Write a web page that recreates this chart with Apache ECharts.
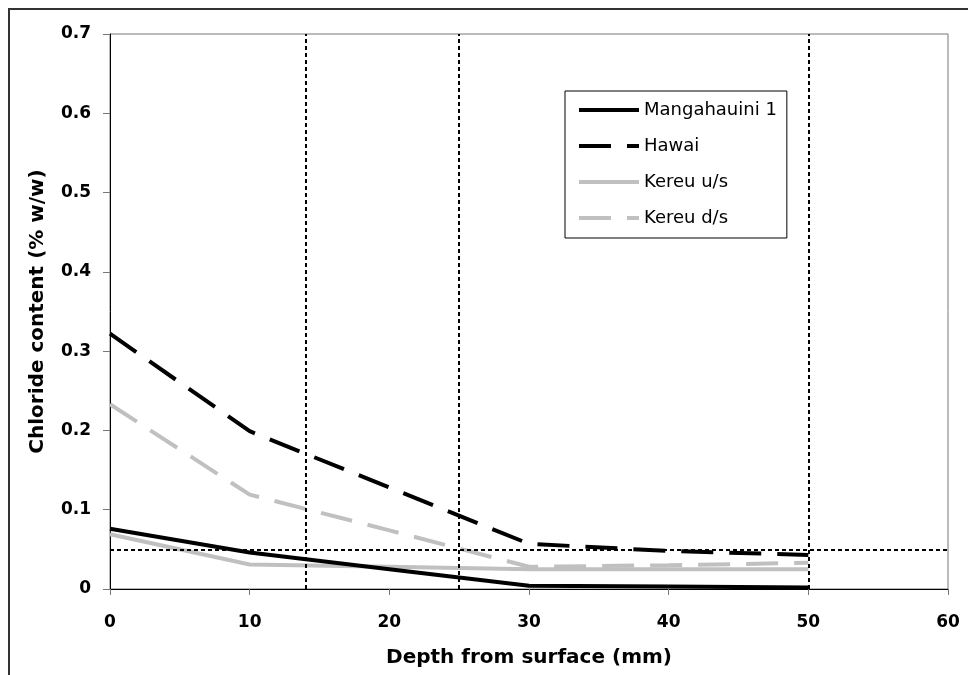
<!DOCTYPE html>
<html><head><meta charset="utf-8">
<script src="https://cdn.jsdelivr.net/npm/echarts@6/dist/echarts.min.js"></script>
<style>html,body{margin:0;padding:0;background:#fff}#c{width:968px;height:675px}</style>
</head><body><div id="c"></div>
<script>
const depths = [0, 10, 20, 30, 40, 50];
const mangahauini = [0.076, 0.046, 0.025, 0.004, 0.003, 0.002];
const hawai = [0.322, 0.199, 0.128, 0.057, 0.048, 0.043];
const kereuUs = [0.069, 0.031, 0.028, 0.025, 0.025, 0.025];
const kereuDs = [0.233, 0.119, 0.074, 0.028, 0.030, 0.033];
const refDepths = [14, 25, 50];
const refChloride = 0.052;
const seriesNames = ['Mangahauini 1', 'Hawai', 'Kereu u/s', 'Kereu d/s'];

const FONT = 'DejaVu Sans';
const chart = echarts.init(document.getElementById('c'), null, {renderer: 'canvas'});
const pts = arr => depths.map((d, i) => [d, arr[i]]);
const mk = (name, arr, color, dashed, z) => ({
  name, type: 'line', data: pts(arr), symbol: 'none', z,
  lineStyle: {color, width: 4, type: dashed ? [32, 16] : 'solid', cap: 'butt'},
  itemStyle: {color}
});
chart.setOption({
  animation: false,
  backgroundColor: '#fff',
  textStyle: {fontFamily: FONT},
  grid: {left: 110, top: 34, right: 20, bottom: 86, show: true, borderColor: '#777', borderWidth: 1},
  graphic: [{type: 'rect', shape: {x: 9, y: 9, width: 1000, height: 700},
    style: {fill: 'none', stroke: '#333', lineWidth: 2}, silent: true}],
  xAxis: {
    type: 'value', min: 0, max: 60, interval: 10,
    name: 'Depth from surface (mm)', nameLocation: 'middle', nameGap: 59,
    nameTextStyle: {fontFamily: FONT, fontWeight: 'bold', fontSize: 20, color: '#000'},
    axisLine: {show: true, lineStyle: {color: '#000', width: 1}},
    axisTick: {show: true, length: 6, lineStyle: {color: '#777'}},
    axisLabel: {fontFamily: FONT, fontWeight: 'bold', fontSize: 17, color: '#000', margin: 25},
    splitLine: {show: false}
  },
  yAxis: {
    type: 'value', min: 0, max: 0.7, interval: 0.1,
    name: 'Chloride content (% w/w)', nameLocation: 'middle', nameGap: 62,
    nameTextStyle: {fontFamily: FONT, fontWeight: 'bold', fontSize: 20, color: '#000'},
    axisLine: {show: true, lineStyle: {color: '#000', width: 1}},
    axisTick: {show: true, length: 7, lineStyle: {color: '#777'}},
    axisLabel: {fontFamily: FONT, fontWeight: 'bold', fontSize: 17, color: '#000', margin: 19,
      formatter: v => v === 0 ? '0' : v.toFixed(1)},
    splitLine: {show: false}
  },
  legend: {
    data: seriesNames,
    orient: 'vertical', left: 565, top: 91,
    itemWidth: 60, itemHeight: 18, itemGap: 18, itemTextGap: 3,
    padding: [10, 10, 11, 12],
    borderColor: '#000', borderWidth: 1, backgroundColor: '#fff',
    itemStyle: {opacity: 0},
    lineStyle: {width: 4},
    textStyle: {fontFamily: FONT, fontSize: 18, color: '#000', width: 144}
  },
  series: [
    mk(seriesNames[0], mangahauini, '#000', false, 5),
    mk(seriesNames[1], hawai, '#000', true, 5),
    mk(seriesNames[2], kereuUs, '#c0c0c0', false, 4),
    mk(seriesNames[3], kereuDs, '#c0c0c0', true, 4),
    {
      name: 'ref', type: 'line', data: [], z: 6,
      markLine: {
        silent: true, symbol: 'none', label: {show: false},
        lineStyle: {color: '#000', width: 2, type: [4, 3]},
        data: refDepths.map(d => ({xAxis: d})).concat([{yAxis: refChloride}])
      }
    }
  ]
});
</script></body></html>
